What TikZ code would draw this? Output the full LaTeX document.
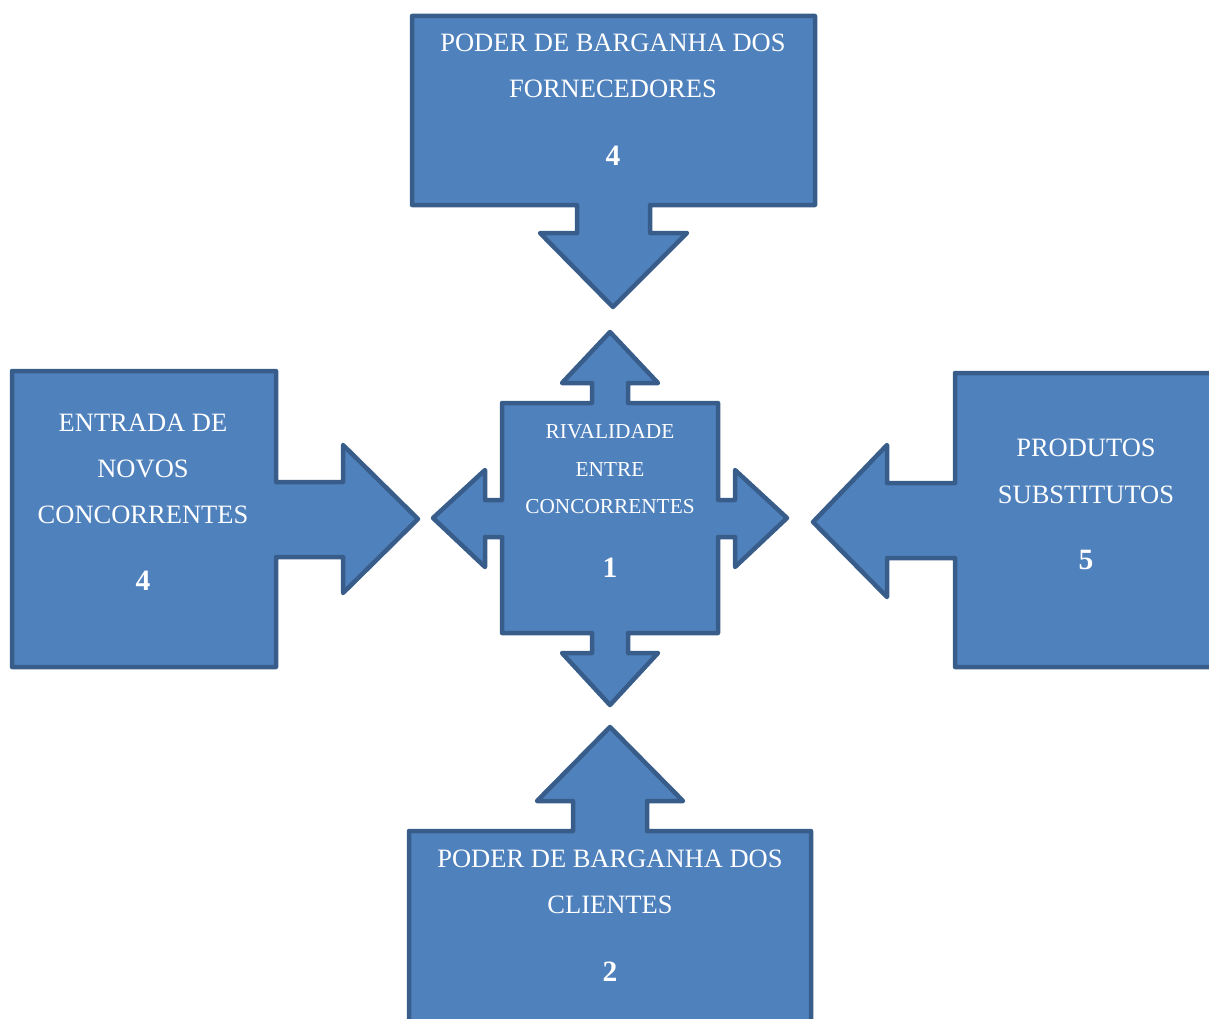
\documentclass[tikz,border=0pt]{standalone}
\usepackage{fontspec}
\setmainfont{Liberation Serif}
\definecolor{ForceFill}{RGB}{79,129,189}
\definecolor{ForceLine}{RGB}{56,93,138}

\begin{document}
\begin{tikzpicture}[x=1pt,y=-1pt,
  force/.style={fill=ForceFill,draw=ForceLine,line width=4.5pt,line join=round},
  label/.style={text=white,anchor=base,inner sep=0pt,font=\fontsize{26.5}{30}\selectfont},
  small/.style={text=white,anchor=base,inner sep=0pt,font=\fontsize{21.3}{25}\selectfont},
  num/.style={text=white,anchor=base,inner sep=0pt,font=\fontsize{29.5}{33}\selectfont\bfseries}]
\useasboundingbox (0,0) rectangle (1209,1019);
\clip (0,0) rectangle (1209,1019);

% fornecedores (top)
\draw[force] (412,16) -- (815,16) -- (815,205) -- (650,205) -- (650,233) -- (687,233)
  -- (613,307) -- (540,233) -- (577,233) -- (577,205) -- (412,205) -- cycle;

% novos concorrentes (left)
\draw[force] (12,371) -- (276,371) -- (276,482) -- (343,482) -- (343,445) -- (418,519)
  -- (343,593) -- (343,557) -- (276,557) -- (276,667) -- (12,667) -- cycle;

% rivalidade (center)
\draw[force] (502,403) -- (592,403) -- (592,383) -- (562,383) -- (610,332) -- (658,383)
  -- (628,383) -- (628,403) -- (718,403) -- (718,500) -- (735,500) -- (735,470)
  -- (787,518) -- (735,567) -- (735,537) -- (718,537) -- (718,633) -- (628,633)
  -- (628,653) -- (658,653) -- (610,705) -- (562,653) -- (592,653) -- (592,633)
  -- (502,633) -- (502,537) -- (485,537) -- (485,567) -- (433,518) -- (485,470)
  -- (485,500) -- (502,500) -- cycle;

% substitutos (right)
\draw[force] (955,373) -- (1230,373) -- (1230,667) -- (955,667) -- (955,558) -- (887,558)
  -- (887,597) -- (813,522) -- (887,445) -- (887,483) -- (955,483) -- cycle;

% clientes (bottom)
\draw[force] (409,831) -- (573,831) -- (573,801) -- (537,801) -- (610,727) -- (683,801)
  -- (647,801) -- (647,831) -- (811,831) -- (811,1040) -- (409,1040) -- cycle;

% texts
\node[label] (forn1) at (613,52) {PODER DE BARGANHA DOS};
\node[label] (forn2) at (613,98) {FORNECEDORES};
\node[num] (fornN) at (613,166) {4};

\node[label] (novo1) at (143,431) {ENTRADA DE};
\node[label] (novo2) at (143,477) {NOVOS};
\node[label] (novo3) at (143,523) {CONCORRENTES};
\node[num] (novoN) at (143,590) {4};

\node[small] (riva1) at (610,438) {RIVALIDADE};
\node[small] (riva2) at (610,476) {ENTRE};
\node[small] (riva3) at (610,513) {CONCORRENTES};
\node[num] (rivaN) at (610,577) {1};

\node[label] (subs1) at (1086,456) {PRODUTOS};
\node[label] (subs2) at (1086,503) {SUBSTITUTOS};
\node[num] (subsN) at (1086,569) {5};

\node[label] (clie1) at (610,867) {PODER DE BARGANHA DOS};
\node[label] (clie2) at (610,913) {CLIENTES};
\node[num] (clieN) at (610,981) {2};
\end{tikzpicture}
\end{document}
